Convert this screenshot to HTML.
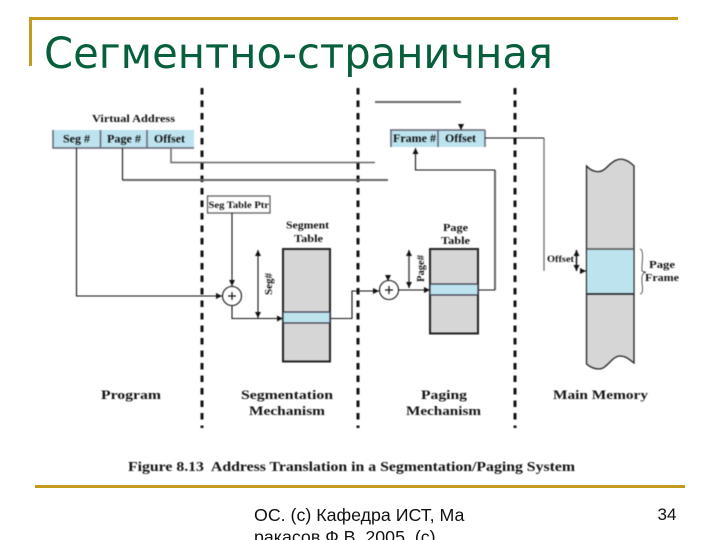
<!DOCTYPE html>
<html><head><meta charset="utf-8"><style>
html,body{margin:0;padding:0;background:#fff;width:720px;height:540px;overflow:hidden}
svg{display:block}
.s{font-family:"Liberation Serif",serif;font-weight:bold;fill:#111}
.d{filter:blur(.4px)}
</style></head><body>
<svg width="720" height="540" viewBox="0 0 720 540" xmlns="http://www.w3.org/2000/svg">
<defs>
<marker id="a" markerWidth="8" markerHeight="8" refX="6" refY="3" orient="auto-start-reverse" markerUnits="userSpaceOnUse"><path d="M0,0L6,3L0,6z" fill="#111"/></marker>
</defs>
<rect x="29" y="17" width="649" height="3" fill="#c49a1f"/>
<rect x="29" y="17" width="3" height="49" fill="#c49a1f"/>
<rect x="35" y="485" width="650" height="3" fill="#c49a1f"/>
<text x="44" y="68" font-family="'DejaVu Sans',sans-serif" font-size="42.500" fill="#075f3c" textLength="509" lengthAdjust="spacingAndGlyphs">Сегментно-страничная</text>
<text x="254" y="521" font-family="'Liberation Sans',sans-serif" font-size="17.800" fill="#111">ОС. (c) Кафедра ИСТ, Ма</text>
<text x="254" y="543" font-family="'Liberation Sans',sans-serif" font-size="17.800" fill="#111">ракасов Ф.В. 2005, (c)</text>
<text x="657.500" y="520" font-family="'Liberation Sans',sans-serif" font-size="17" fill="#111">34</text>

<g class="d">
<g stroke="#111" stroke-width="3" stroke-dasharray="6.500 6">
<path d="M202 88V428M358 88V428M515 88V428"/>
</g>

<rect x="53" y="130" width="141" height="18" fill="#bde3ef"/>
<path d="M53 130V148H194M100.500 130V148M147 130V148" fill="none" stroke="#667" stroke-width="1.500"/>
<rect x="390" y="130" width="95" height="17" fill="#bde3ef"/>
<path d="M391 130V147M438 130V147M485 130V147M390 130H485" fill="none" stroke="#667" stroke-width="1.500"/>
<rect x="207.500" y="196" width="62.500" height="17" fill="#fff" stroke="#555" stroke-width="1.200"/>

<g fill="none" stroke="#666" stroke-width="1.500">
<path d="M171 148V162.500H375"/>
<path d="M122.500 180H388" stroke-width="2"/>
<path d="M375 102H461" stroke-width="2"/>
<path d="M544 138V271" stroke-width="1.200"/>
<path d="M495 170V290" stroke-width="2"/>
</g>
<g fill="none" stroke="#111" stroke-width="1.100">
<path d="M76.500 148V296H222" marker-end="url(#a)"/>
<path d="M122.500 148V180"/>
<path d="M232 213V286" marker-end="url(#a)"/>
<path d="M232 305V318.500H283" marker-end="url(#a)"/>
<path d="M258 250V318" marker-start="url(#a)" marker-end="url(#a)"/>
<path d="M330 318.500H352V291H379" marker-end="url(#a)"/>
<path d="M399 290H430" marker-end="url(#a)"/>
<path d="M409 250V288" stroke="#444" stroke-width="1.500" marker-start="url(#a)" marker-end="url(#a)"/>
<path d="M478 290H495"/>
<path d="M495 170H415.500V148" marker-end="url(#a)"/>
<path d="M485 138H544"/>
<path d="M576.500 250V271" stroke-width="1.500" marker-start="url(#a)" marker-end="url(#a)"/>
<path d="M581 271H586" marker-end="url(#a)"/>
<path d="M461 124V130" marker-end="url(#a)"/>
<path d="M388 276V281" marker-end="url(#a)"/>
</g>
<circle cx="232" cy="296" r="9.500" fill="#fff" stroke="#111" stroke-width="1.100"/>
<path d="M228 296H236M232 292V300" stroke="#111" stroke-width="1.200"/>
<circle cx="389" cy="290" r="9.500" fill="#fff" stroke="#111" stroke-width="1.100"/>
<path d="M385 290H393M389 286V294" stroke="#111" stroke-width="1.200"/>

<rect x="283" y="249" width="47" height="112.500" fill="#d6d6d6" stroke="#222" stroke-width="2"/>
<rect x="283" y="312" width="47" height="11" fill="#bde3ef" stroke="#334" stroke-width="1.200"/>
<rect x="430" y="249" width="48" height="84.500" fill="#d6d6d6" stroke="#222" stroke-width="2"/>
<rect x="430" y="284" width="48" height="11" fill="#bde3ef" stroke="#334" stroke-width="1.200"/>

<path d="M586.500 166C592 172 600 174 606 168C612 162 618 157 625 160C629 161 632 164 634 166V363C630 360 626 356 620 356C612 356 607 369 599 369C594 369 590 367 586.500 364Z" fill="#d6d6d6" stroke="#222" stroke-width="1.300"/>
<rect x="586.500" y="249" width="47.500" height="45" fill="#bde3ef"/>
<path d="M586.500 249H634" stroke="#555" stroke-width="1.500"/>
<path d="M586.500 294H634" stroke="#111" stroke-width="1.500"/>
<path d="M586.500 249V294M634 249V294" stroke="#222" stroke-width="1"/>
<path d="M640 249C645 250 641 268 642 270C642 272 644 272 646 272C643 273 642 275 642 277C641 283 645 293 640 294" fill="none" stroke="#333" stroke-width=".8"/>

<g class="s">
<text class="s" x="92" y="122" font-size="11" textLength="83" lengthAdjust="spacingAndGlyphs">Virtual Address</text>
<text class="s" x="63" y="142.500" font-size="11.500" textLength="27" lengthAdjust="spacingAndGlyphs">Seg #</text>
<text class="s" x="107" y="142.500" font-size="11.500" textLength="34" lengthAdjust="spacingAndGlyphs">Page #</text>
<text class="s" x="154" y="142.500" font-size="11.500" textLength="31" lengthAdjust="spacingAndGlyphs">Offset</text>
<text class="s" x="393" y="142" font-size="11.500" textLength="43" lengthAdjust="spacingAndGlyphs">Frame #</text>
<text class="s" x="445" y="142" font-size="11.500" textLength="31" lengthAdjust="spacingAndGlyphs">Offset</text>
<text class="s" x="208.500" y="208" font-size="9" textLength="60.500" lengthAdjust="spacingAndGlyphs">Seg Table Ptr</text>
<text class="s" x="286" y="228.500" font-size="10.500" textLength="43" lengthAdjust="spacingAndGlyphs">Segment</text>
<text class="s" x="294" y="242" font-size="10.500" textLength="29" lengthAdjust="spacingAndGlyphs">Table</text>
<text class="s" x="443" y="231" font-size="10.500" textLength="25" lengthAdjust="spacingAndGlyphs">Page</text>
<text class="s" x="441" y="244" font-size="10.500" textLength="29" lengthAdjust="spacingAndGlyphs">Table</text>
<text class="s" transform="translate(272 295) rotate(-90)" font-size="11" textLength="22" lengthAdjust="spacingAndGlyphs">Seg#</text>
<text class="s" transform="translate(424 282) rotate(-90)" font-size="11" textLength="27" lengthAdjust="spacingAndGlyphs">Page#</text>
<text class="s" x="547" y="262" font-size="9.500" textLength="27" lengthAdjust="spacingAndGlyphs">Offset</text>
<text class="s" x="649" y="268" font-size="10.500" textLength="26" lengthAdjust="spacingAndGlyphs">Page</text>
<text class="s" x="645" y="281" font-size="11" textLength="34" lengthAdjust="spacingAndGlyphs">Frame</text>
<text class="s" x="101" y="399" font-size="12.500" textLength="60" lengthAdjust="spacingAndGlyphs">Program</text>
<text class="s" x="241" y="399" font-size="12.500" textLength="92" lengthAdjust="spacingAndGlyphs">Segmentation</text>
<text class="s" x="249" y="415" font-size="12.500" textLength="76" lengthAdjust="spacingAndGlyphs">Mechanism</text>
<text class="s" x="421" y="399" font-size="12.500" textLength="46" lengthAdjust="spacingAndGlyphs">Paging</text>
<text class="s" x="406" y="415" font-size="12.500" textLength="75" lengthAdjust="spacingAndGlyphs">Mechanism</text>
<text class="s" x="553" y="399" font-size="12.500" textLength="95" lengthAdjust="spacingAndGlyphs">Main Memory</text>
<text class="s" x="128" y="471" font-size="14" textLength="447" lengthAdjust="spacingAndGlyphs" xml:space="preserve">Figure 8.13  Address Translation in a Segmentation/Paging System</text>
</g>
</g>
</svg>
</body></html>
